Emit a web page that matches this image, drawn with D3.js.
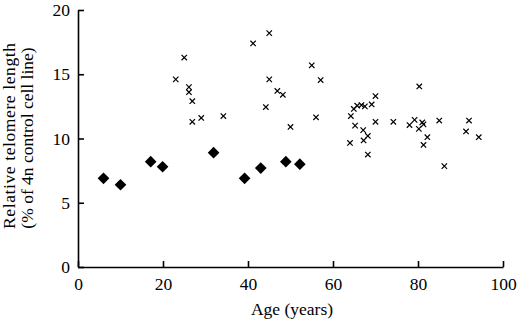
<!DOCTYPE html>
<html>
<head>
<meta charset="utf-8">
<script src="https://cdn.jsdelivr.net/npm/d3@7"></script>
<style>
  body { margin: 0; background: #fff; }
  text { font-family: "Liberation Serif", "Times New Roman", serif; fill: #000; }
</style>
</head>
<body>
<div id="chart"></div>
<script>
// group 1 (filled diamonds)
const diamond_age = [6, 10, 17.1, 19.9, 31.9, 39.2, 43, 48.9, 52.2];
const diamond_len = [6.9, 6.4, 8.2, 7.8, 8.9, 6.9, 7.7, 8.2, 8.0];

// group 2 (crosses)
const cross_age = [25, 23, 26.1, 26.1, 26.9, 26.9, 29, 34.2, 41.2, 45, 45, 46.9, 48.2, 44.2,
    55, 57.1, 56, 50, 70, 69.1, 65.7, 66.7, 67.5, 64.9, 64.2, 70, 74.2, 65.2, 67.1, 68.2,
    67.2, 64, 68.2, 80.3, 78, 79.2, 80.2, 81, 81.3, 82.2, 81.3, 85, 92, 91.3, 94.3, 86.2];
const cross_len = [16.3, 14.6, 14.0, 13.6, 12.9, 11.3, 11.6, 11.75, 17.4, 18.2, 14.6, 13.7, 13.4, 12.45,
    15.7, 14.55, 11.65, 10.9, 13.3, 12.65, 12.55, 12.6, 12.5, 12.3, 11.75, 11.3, 11.3, 11.0, 10.65, 10.2,
    9.85, 9.65, 8.75, 14.05, 11.05, 11.45, 10.75, 11.25, 11.1, 10.1, 9.5, 11.4, 11.4, 10.55, 10.1, 7.85];

const x_ticks = [0, 20, 40, 60, 80, 100];
const y_ticks = [0, 5, 10, 15, 20];

const chart_width = 520;
const chart_height = 321;
const font = '"Liberation Serif", "Times New Roman", serif';

const svg = d3.select('#chart')
    .append('svg')
    .attr('width', chart_width)
    .attr('height', chart_height);

const x_scale = d3.scaleLinear()
    .domain([0, 100])
    .range([78, 503]);

const y_scale = d3.scaleLinear()
    .domain([0, 20])
    .range([267, 10]);

// Axes (ticks point inward)
const x_axis = d3.axisBottom(x_scale)
    .tickValues(x_ticks)
    .tickSizeInner(-6)
    .tickSizeOuter(0)
    .tickPadding(11);
const gx = svg.append('g')
    .attr('transform', `translate(0, ${y_scale(0)})`)
    .call(x_axis);

const y_axis = d3.axisLeft(y_scale)
    .tickValues(y_ticks)
    .tickSizeInner(-6)
    .tickSizeOuter(0)
    .tickPadding(8);
const gy = svg.append('g')
    .attr('transform', `translate(${x_scale(0)}, 0)`)
    .call(y_axis);

[gx, gy].forEach(g => {
    g.attr('font-family', font).attr('font-size', 17.5);
    g.selectAll('path, line').attr('stroke', '#000').attr('stroke-width', 1.6);
    g.selectAll('text').attr('fill', '#000');
});

// Axis titles
svg.append('text')
    .attr('x', 292)
    .attr('y', 315)
    .attr('text-anchor', 'middle')
    .attr('font-size', 17.5)
    .text('Age (years)');

svg.append('text')
    .attr('transform', 'translate(15, 136) rotate(-90)')
    .attr('text-anchor', 'middle')
    .attr('textLength', 186)
    .attr('lengthAdjust', 'spacing')
    .attr('font-size', 17.5)
    .text('Relative telomere length');

svg.append('text')
    .attr('transform', 'translate(33, 138) rotate(-90)')
    .attr('text-anchor', 'middle')
    .attr('font-size', 17.5)
    .text('(% of 4n control cell line)');

// Diamonds
const diamond = d3.symbol().type(d3.symbolSquare).size(68);
svg.append('g')
    .selectAll('path')
    .data(diamond_age.map((a, i) => [a, diamond_len[i]]))
    .enter()
    .append('path')
    .attr('d', diamond)
    .attr('transform', d => `translate(${x_scale(d[0])}, ${y_scale(d[1])}) rotate(45)`)
    .attr('fill', '#000');

// Crosses
const h = 2.7;
svg.append('g')
    .selectAll('path')
    .data(cross_age.map((a, i) => [a, cross_len[i]]))
    .enter()
    .append('path')
    .attr('d', `M${-h},${-h}L${h},${h}M${-h},${h}L${h},${-h}`)
    .attr('transform', d => `translate(${x_scale(d[0])}, ${y_scale(d[1])})`)
    .attr('stroke', '#000')
    .attr('stroke-width', 1.2)
    .attr('fill', 'none');
</script>
</body>
</html>
